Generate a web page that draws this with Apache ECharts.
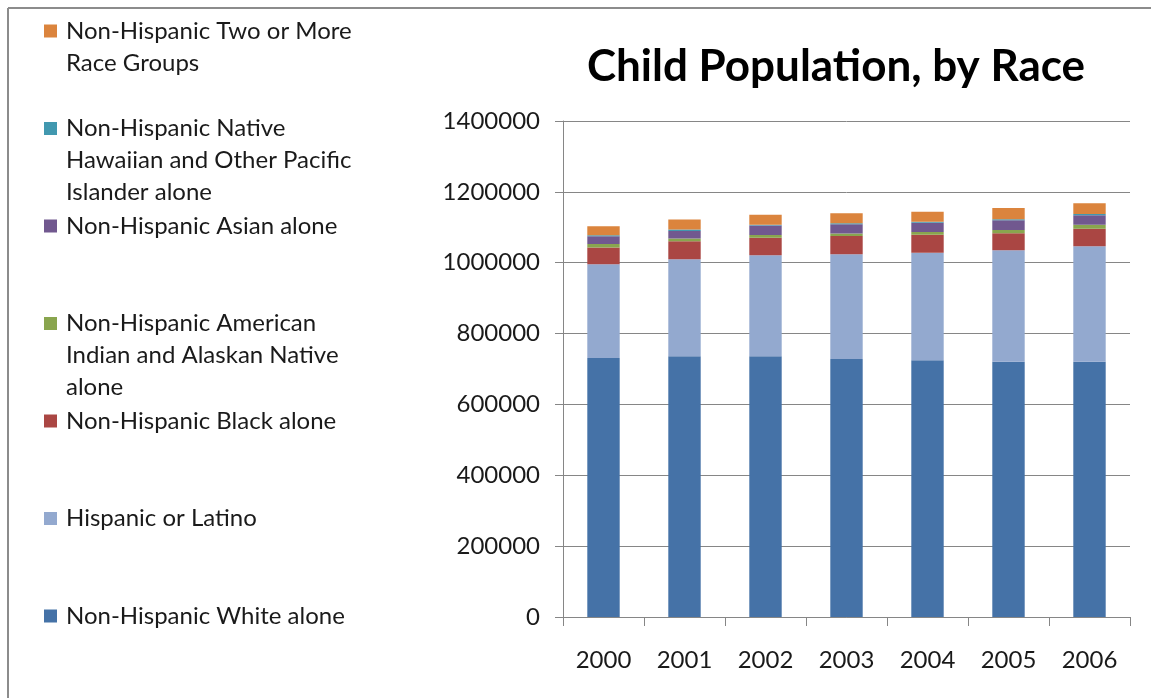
<!DOCTYPE html>
<html>
<head>
<meta charset="utf-8">
<title>Child Population, by Race</title>
<script src="https://cdn.jsdelivr.net/npm/echarts@6/dist/echarts.min.js"></script>
<style>
  html, body { margin: 0; padding: 0; background: #fff; }
  #chart { width: 1151px; height: 698px; }
</style>
</head>
<body>
<div id="chart"></div>
<script>
// Years on the category axis
const years = ['2000', '2001', '2002', '2003', '2004', '2005', '2006'];

// Child population counts per group, stacked bottom to top
const whiteAlone    = [731200, 736000, 736000, 728300, 724600, 720700, 720700];
const hispanic      = [264600, 273800, 285100, 295600, 303800, 314500, 325800];
const blackAlone    = [46800, 50800, 49700, 51700, 50800, 48000, 49700];
const aianAlone     = [10500, 7500, 7600, 6600, 7700, 9300, 11000];
const asianAlone    = [21800, 21700, 26300, 26500, 26200, 27400, 26500];
const nhpiAlone     = [2800, 3700, 2800, 2800, 2800, 2800, 3700];
const twoOrMore     = [25400, 28200, 28200, 28200, 28300, 31900, 30200];

// Value axis ticks
const yTicks = [0, 200000, 400000, 600000, 800000, 1000000, 1200000, 1400000];

// Series definitions: name, data, colour, and the legend's wrapped lines
const groups = [
  { name: 'Non-Hispanic White alone', data: whiteAlone, color: '#4572A7',
    lines: ['Non-Hispanic White alone'] },
  { name: 'Hispanic or Latino', data: hispanic, color: '#93A9CF',
    lines: ['Hispanic or Latino'] },
  { name: 'Non-Hispanic Black alone', data: blackAlone, color: '#AA4643',
    lines: ['Non-Hispanic Black alone'] },
  { name: 'Non-Hispanic American Indian and Alaskan Native alone', data: aianAlone, color: '#89A54E',
    lines: ['Non-Hispanic American', 'Indian and Alaskan Native', 'alone'] },
  { name: 'Non-Hispanic Asian alone', data: asianAlone, color: '#71588F',
    lines: ['Non-Hispanic Asian alone'] },
  { name: 'Non-Hispanic Native Hawaiian and Other Pacific Islander alone', data: nhpiAlone, color: '#4198AF',
    lines: ['Non-Hispanic Native', 'Hawaiian and Other Pacific', 'Islander alone'] },
  { name: 'Non-Hispanic Two or More Race Groups', data: twoOrMore, color: '#DB843D',
    lines: ['Non-Hispanic Two or More', 'Race Groups'] }
];

const FONT = 'Lato';
const TEXT_COLOR = '#1a1a1a';
const LEGEND_FONT = 24;
const AXIS_FONT = 24;
const LINE_H = 32;
const LEGEND_FIRST_Y = 31;   // centre of the first legend line
const LEGEND_STEP = 97.5;    // distance between legend entries
const LEGEND_X = 44;

// Legend entries run top to bottom in reverse stacking order
const legendOrder = groups.slice().reverse();
const legends = [];
const extraLines = [];
legendOrder.forEach((g, i) => {
  const cy = LEGEND_FIRST_Y + i * LEGEND_STEP;
  legends.push({
    data: [g.name],
    left: LEGEND_X,
    top: cy - LINE_H / 2,
    orient: 'vertical',
    padding: 0,
    itemWidth: 13,
    itemHeight: 13,
    icon: 'rect',
    selectedMode: false,
    formatter: () => g.lines[0],
    textStyle: {
      fontFamily: FONT, fontSize: LEGEND_FONT, color: TEXT_COLOR,
      lineHeight: LINE_H, padding: [0, 0, 0, 4]
    }
  });
  g.lines.slice(1).forEach((t, k) => {
    extraLines.push({
      type: 'text',
      left: 66,
      top: cy + (k + 1) * LINE_H - LINE_H / 2,
      style: {
        text: t, fontFamily: FONT, fontSize: LEGEND_FONT, fill: TEXT_COLOR,
        lineHeight: LINE_H
      }
    });
  });
});

const chart = echarts.init(document.getElementById('chart'), null, { renderer: 'canvas' });

chart.setOption({
  animation: false,
  backgroundColor: '#ffffff',
  title: {
    text: 'Child Population, by Race',
    left: 831, top: 40, textAlign: 'center',
    textStyle: { fontFamily: FONT, fontWeight: 'bold', fontSize: 44, color: '#000' }
  },
  legend: legends,
  graphic: [
    // frame lines along the top and left edge
    { type: 'line', shape: { x1: 8, y1: 8, x2: 1151, y2: 8 },
      style: { stroke: '#8c8c8c', lineWidth: 2 } },
    { type: 'line', shape: { x1: 8, y1: 8, x2: 8, y2: 698 },
      style: { stroke: '#8c8c8c', lineWidth: 2 } }
  ].concat(extraLines),
  grid: { left: 563, right: 21, top: 121, bottom: 81, containLabel: false },
  xAxis: {
    type: 'category',
    data: years,
    axisLine: { lineStyle: { color: '#868686', width: 1 } },
    axisTick: { show: true, length: 9, alignWithLabel: false, lineStyle: { color: '#868686' } },
    axisLabel: { fontFamily: FONT, fontSize: AXIS_FONT, color: TEXT_COLOR, margin: 31 }
  },
  yAxis: {
    type: 'value',
    min: yTicks[0],
    max: yTicks[yTicks.length - 1],
    interval: yTicks[1] - yTicks[0],
    axisLine: { show: true, lineStyle: { color: '#868686', width: 1 } },
    axisTick: { show: true, length: 8, lineStyle: { color: '#868686' } },
    splitLine: { show: true, lineStyle: { color: '#868686', width: 1 } },
    axisLabel: {
      fontFamily: FONT, fontSize: AXIS_FONT, color: TEXT_COLOR, margin: 23,
      formatter: v => String(v)
    }
  },
  series: groups.map(g => ({
    name: g.name,
    type: 'bar',
    stack: 'total',
    data: g.data,
    barCategoryGap: '60%',
    itemStyle: { color: g.color },
    emphasis: { disabled: true }
  }))
});
</script>
</body>
</html>
